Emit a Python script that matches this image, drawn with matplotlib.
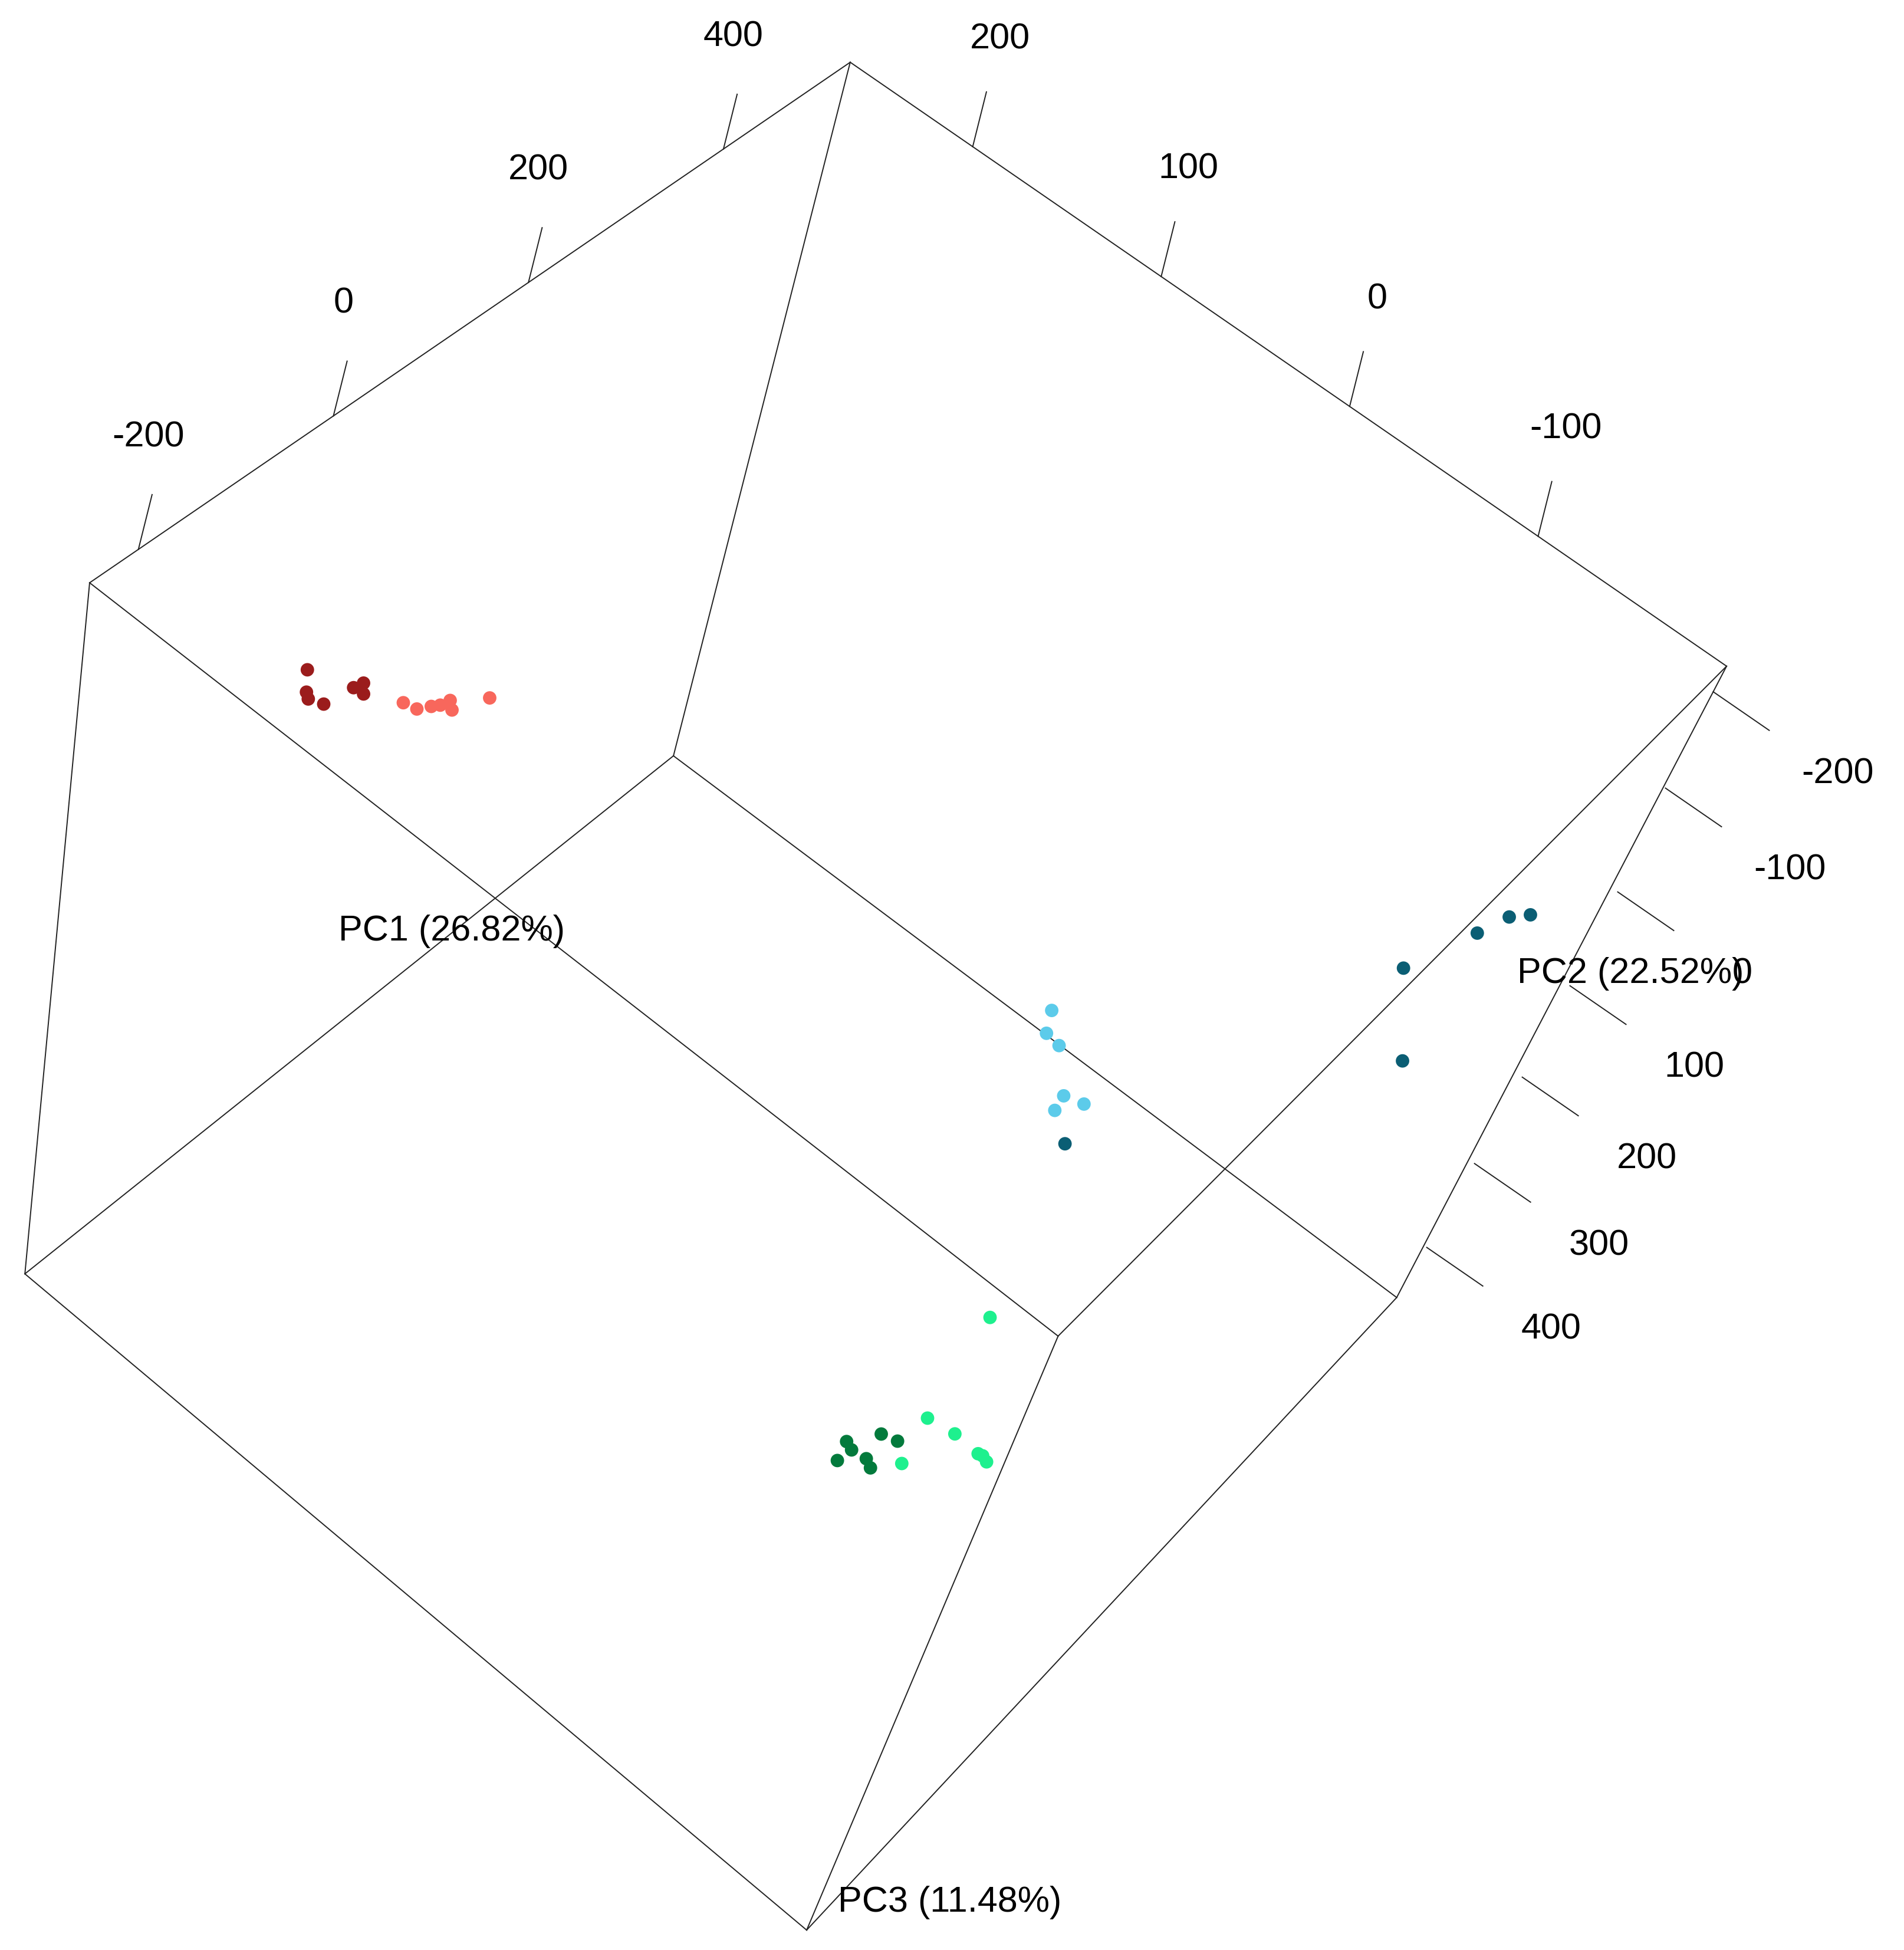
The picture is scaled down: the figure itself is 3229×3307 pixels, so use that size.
import numpy as np
import matplotlib
matplotlib.use("Agg")
import matplotlib.pyplot as plt

plt.rcParams['font.family'] = ['Liberation Sans', 'DejaVu Sans']

# ---- data (PC scores) ----
groups = ["darkred", "salmon", "lightblue", "darkteal", "springgreen", "darkgreen"]
colors = ["#9b1c1c", "#f8675c", "#5ccbea", "#0b5e74", "#1ef08e", "#037a3c"]
pc1_darkred = [81, 64, 60, 65, 94, 103, 95]
pc2_darkred = [292, 284, 281, 275, 273, 272, 268]
pc3_darkred = [117, 117, 117, 117, 117, 117, 117]
pc1_salmon = [111, 114, 124, 130, 139, 133, 163]
pc2_salmon = [254, 248, 245, 243, 242, 238, 232]
pc3_salmon = [117, 117, 117, 117, 117, 117, 117]
pc1_lightblue = [244, 225, 223, 190, 175, 195]
pc2_lightblue = [-43, -49, -57, -75, -77, -84]
pc3_lightblue = [117, 117, 117, 117, 117, 117]
pc1_darkteal = [157, 281, 342, 369, 381, 217]
pc2_darkteal = [-91, -174, -186, -191, -197, -202]
pc3_darkteal = [117, -90, -90, -90, -90, -90]
pc1_springgreen = [-4, -107, -103, -104, -105, -152, -103]
pc2_springgreen = [-123, -135, -148, -161, -166, -141, -163]
pc3_springgreen = [117, 117, 117, 117, 117, 117, 117]
pc1_darkgreen = [-167, -185, -170, -168, -172, -143, -139]
pc2_darkgreen = [-118, -121, -122, -129, -133, -126, -133]
pc3_darkgreen = [117, 117, 117, 117, 117, 117, 117]

pc1_ticks = [-200, 0, 200, 400]
pc2_ticks = [-100, 0, 100, 200]
pc3_ticks = [-200, -100, 0, 100, 200, 300, 400]
axis_labels = ["PC1 (26.82%)", "PC2 (22.52%)", "PC3 (11.48%)"]

# ---- projection of the box (rgl-like view) ----
R1 = (-250, 530); R2 = (-200, 265); R3 = (-228, 463)
corner = {  # (p1,p2,p3) -> screen position
    (1, 1, 0): (683, 50), (0, 1, 0): (72, 468), (1, 0, 0): (1387, 535), (0, 0, 0): (850, 1073),
    (1, 1, 1): (541, 607), (0, 1, 1): (20, 1023), (1, 0, 1): (1122, 1042), (0, 0, 1): (648, 1550)}

def proj(x, y, z):
    p = [(x - R1[0]) / (R1[1] - R1[0]), (y - R2[0]) / (R2[1] - R2[0]), (z - R3[0]) / (R3[1] - R3[0])]
    X = Y = 0.0
    for k, (cx, cy) in corner.items():
        w = 1.0
        for i in range(3):
            w *= p[i] if k[i] else (1 - p[i])
        X += w * cx; Y += w * cy
    return X, Y

fig = plt.figure(figsize=(32.3, 33.07), dpi=100)
ax = fig.add_axes([0, 0, 1, 1])
ax.set_xlim(0, 1530); ax.set_ylim(1566, 0); ax.axis("off")

lw = 1.4
lc = "#222222"
edges = [((1,1,0),(0,1,0)), ((1,1,0),(1,0,0)), ((1,1,0),(1,1,1)), ((0,1,0),(0,1,1)), ((0,1,0),(0,0,0)),
         ((1,0,0),(0,0,0)), ((1,0,0),(1,0,1)), ((0,0,0),(0,0,1)), ((1,1,1),(0,1,1)), ((1,1,1),(1,0,1)),
         ((0,1,1),(0,0,1)), ((1,0,1),(0,0,1))]
for a, b in edges:
    (x0, y0), (x1, y1) = corner[a], corner[b]
    ax.plot([x0, x1], [y0, y1], color=lc, lw=lw, zorder=1)

fs = 44
for t in pc1_ticks:
    x, y = proj(t, R2[1], R3[0])
    ax.plot([x, x + 11], [y, y - 44], color=lc, lw=lw)
    ax.text(x + 8, y - 90, str(t), fontsize=fs, ha="center", va="center")
for t in pc2_ticks:
    x, y = proj(R1[1], t, R3[0])
    ax.plot([x, x + 11], [y, y - 44], color=lc, lw=lw)
    ax.text(x + 22, y - 86, str(t), fontsize=fs, ha="center", va="center")
pc3_shift = [0, 4, 14, 16, 16, 12, 6]
for t, sh in zip(pc3_ticks, pc3_shift):
    x, y = proj(R1[1], R2[0], t)
    y += sh
    ax.plot([x, x + 45], [y, y + 31], color=lc, lw=lw)
    ax.text(x + 100, y + 66, str(t), fontsize=fs, ha="center", va="center")

ax.text(363, 748, axis_labels[0], fontsize=fs, ha="center", va="center")
ax.text(1310, 782, axis_labels[1], fontsize=fs, ha="center", va="center")
ax.text(763, 1528, axis_labels[2], fontsize=fs, ha="center", va="center")

data = [(pc1_darkred, pc2_darkred, pc3_darkred), (pc1_salmon, pc2_salmon, pc3_salmon),
        (pc1_lightblue, pc2_lightblue, pc3_lightblue), (pc1_darkteal, pc2_darkteal, pc3_darkteal),
        (pc1_springgreen, pc2_springgreen, pc3_springgreen), (pc1_darkgreen, pc2_darkgreen, pc3_darkgreen)]
for (a, b, c), col in zip(data, colors):
    pts = np.array([proj(x, y, z) for x, y, z in zip(a, b, c)])
    ax.scatter(pts[:, 0], pts[:, 1], s=270, color=col, edgecolors="none", zorder=3)

fig.savefig("out.png", dpi=100)
